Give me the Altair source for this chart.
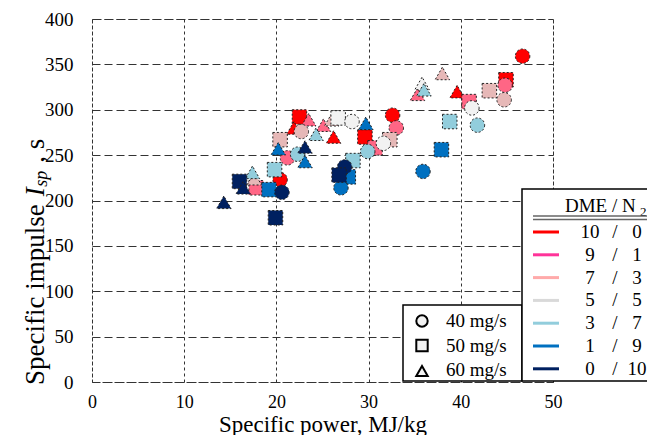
import altair as alt
import pandas as pd

# ---------------- data ----------------
mix_labels = ["10/0", "9/1", "7/3", "5/5", "3/7", "1/9", "0/10"]
mix_left = ["10", "9", "7", "5", "3", "1", "0"]
mix_right = ["0", "1", "3", "5", "7", "9", "10"]
marker_colors = ["#FF0000", "#FF6685", "#E6B8B7", "#F2F2F2", "#92CDDC", "#0070C0", "#002060"]
line_colors = ["#FF0000", "#FF3399", "#FFAAAA", "#D9D9D9", "#92CDDC", "#0070C0", "#002060"]
rate_labels = ["40 mg/s", "50 mg/s", "60 mg/s"]
rate_values = [40, 50, 60]
rate_shapes = ["circle", "square", "triangle-up"]

# (x: specific power MJ/kg, y: specific impulse s, flow rate mg/s)
red_x = [46.7, 44.9, 39.6, 32.6, 29.6, 26.2, 22.5, 21.9, 20.4]
red_y = [359, 333, 320, 294, 270, 270, 292, 280, 223]
red_r = [40, 50, 60, 40, 50, 60, 50, 60, 40]

pink_x = [44.8, 40.9, 35.3, 33.0, 30.7, 23.5, 25.1, 21.2, 17.8]
pink_y = [327, 309, 317, 280, 258, 289, 283, 247, 214]
pink_r = [40, 50, 60, 40, 50, 60, 60, 40, 50]

lpink_x = [38.0, 43.1, 44.7, 32.3, 22.7, 26.0, 20.4, 17.6]
lpink_y = [340, 321, 311, 267, 276, 289, 267, 224]
lpink_r = [60, 50, 40, 50, 40, 60, 50, 60]

grey_x = [35.8, 41.2, 26.7, 28.2, 31.6]
grey_y = [329, 302, 291, 287, 263]
grey_r = [60, 40, 50, 40, 40]

lblue_x = [41.8, 38.8, 36.0, 29.9, 28.3, 24.3, 22.3, 19.8, 17.4]
lblue_y = [283, 287, 322, 254, 244, 273, 251, 234, 231]
lblue_r = [40, 50, 60, 40, 50, 60, 40, 50, 60]

blue_x = [37.9, 35.9, 29.7, 27.8, 27.0, 20.2, 23.1, 19.2]
blue_y = [256, 232, 285, 226, 214, 257, 243, 212]
blue_r = [50, 40, 60, 50, 40, 60, 60, 50]

navy_x = [27.4, 26.8, 23.1, 16.0, 16.4, 20.6, 14.3, 19.9]
navy_y = [237, 228, 259, 221, 214, 209, 198, 181]
navy_r = [40, 50, 60, 50, 60, 40, 60, 50]

series = [
    (red_x, red_y, red_r), (pink_x, pink_y, pink_r), (lpink_x, lpink_y, lpink_r),
    (grey_x, grey_y, grey_r), (lblue_x, lblue_y, lblue_r), (blue_x, blue_y, blue_r),
    (navy_x, navy_y, navy_r),
]
rows = []
for lab, (xs, ys, rs) in zip(mix_labels, series):
    for x, y, r in zip(xs, ys, rs):
        rows.append({"power": x, "isp": y, "mix": lab, "rate": r})
df = pd.DataFrame(rows)

FONT = "Liberation Serif"
W, H = 461, 363
OX, OY = 92, 19  # page position of plot origin (for legend placement)

dummy = pd.DataFrame({"a": [0]})

points = alt.Chart(df).mark_point(
    filled=True, size=210, stroke="#222", strokeWidth=1, strokeDash=[2, 2], opacity=1
).encode(
    x=alt.X("power:Q", scale=alt.Scale(domain=[0, 50], nice=False),
            axis=alt.Axis(values=[0, 10, 20, 30, 40, 50], title="Specific power, MJ/kg",
                          grid=True, gridDash=[3, 3], gridColor="#333", gridOpacity=1,
                          ticks=False, domain=False, labelPadding=11, labelFlush=False,
                          labelFont=FONT, labelFontSize=18, labelColor="black",
                          titleFont=FONT, titleFontSize=23, titleFontWeight="normal",
                          titleColor="black", titlePadding=2)),
    y=alt.Y("isp:Q", scale=alt.Scale(domain=[0, 400], nice=False),
            axis=alt.Axis(values=list(range(0, 401, 50)), title=None,
                          grid=True, gridDash=[8, 4], gridColor="#333", gridOpacity=1,
                          ticks=False, domain=False, labelPadding=19, labelFlush=False,
                          labelFont=FONT, labelFontSize=19, labelColor="black")),
    shape=alt.Shape("rate:N", scale=alt.Scale(domain=rate_values, range=rate_shapes), legend=None),
    fill=alt.Fill("mix:N", scale=alt.Scale(domain=mix_labels, range=marker_colors), legend=None),
)

layers = [points]

def px(v):
    return alt.value(v - OX)

def py(v):
    return alt.value(v - OY)

# ---- y-axis title with italic I and subscript sp ----
yt_x = 36
start = 385
fs = 27
seg_main = 6694 * fs / 1000 + 8
layers.append(alt.Chart(dummy).mark_text(text="Specific impulse", angle=270, align="left",
              baseline="middle", font=FONT, fontSize=fs, color="black")
              .encode(x=px(yt_x), y=py(start)))
yI = start - seg_main
layers.append(alt.Chart(dummy).mark_text(text="I", angle=270, align="left", baseline="middle",
              font=FONT, fontSize=fs, fontStyle="italic", color="black")
              .encode(x=px(yt_x), y=py(yI)))
ysp = yI - 9.5
layers.append(alt.Chart(dummy).mark_text(text="sp", angle=270, align="left", baseline="middle",
              font=FONT, fontSize=18, fontStyle="italic", color="black")
              .encode(x=px(yt_x + 6), y=py(ysp)))
ys = ysp - 16 - 8
layers.append(alt.Chart(dummy).mark_text(text=",  s", angle=270, align="left", baseline="middle",
              font=FONT, fontSize=fs, color="black")
              .encode(x=px(yt_x), y=py(ys)))

# ---- shape legend ----
layers.append(alt.Chart(dummy).mark_rect(fill="white", stroke="black", strokeWidth=1.5)
              .encode(x=px(403), x2=px(522), y=py(305), y2=py(381)))
for i, (lab, shp) in enumerate(zip(rate_labels, rate_shapes)):
    yy = 321 + i * 24.5
    layers.append(alt.Chart(dummy).mark_point(shape=shp, filled=True, fill="#F2F2F2", stroke="black",
                  strokeWidth=2, size=130, opacity=1).encode(x=px(422), y=py(yy + (1 if shp == "triangle-up" else 0))))
    layers.append(alt.Chart(dummy).mark_text(text=lab, align="left", baseline="middle", font=FONT,
                  fontSize=19, color="black").encode(x=px(446), y=py(yy)))

# ---- DME / N2 legend ----
layers.append(alt.Chart(dummy).mark_rect(fill="white", stroke="black", strokeWidth=1.5)
              .encode(x=px(522), x2=px(700), y=py(189), y2=py(381)))
layers.append(alt.Chart(dummy).mark_text(text="DME /  N", align="left", baseline="middle", font=FONT,
              fontSize=19, color="black").encode(x=px(565), y=py(206)))
layers.append(alt.Chart(dummy).mark_text(text="2", align="left", baseline="middle", font=FONT,
              fontSize=13, color="black").encode(x=px(640), y=py(212)))
for yy in (216, 219.5):
    layers.append(alt.Chart(dummy).mark_rule(color="#666", strokeWidth=1.5)
                  .encode(x=px(533), x2=px(700), y=py(yy)))
for i, (l, r, c) in enumerate(zip(mix_left, mix_right, line_colors)):
    yy = 232 + i * 22.8
    layers.append(alt.Chart(dummy).mark_rule(color=c, strokeWidth=3)
                  .encode(x=px(533), x2=px(559), y=py(yy)))
    for txt, xx in ((l, 590), ("/", 615), (r, 637)):
        layers.append(alt.Chart(dummy).mark_text(text=txt, align="center", baseline="middle",
                      font=FONT, fontSize=19, color="black").encode(x=px(xx), y=py(yy)))

chart = alt.layer(*layers).properties(
    width=W, height=H,
    autosize=alt.AutoSizeParams(type="none"),
    padding={"left": 84, "top": 11, "right": 94, "bottom": 53},
).configure_view(stroke="#333", strokeDash=[3, 3], strokeWidth=1)

chart.save("out.html", embed_options={"renderer": "svg", "actions": False})
